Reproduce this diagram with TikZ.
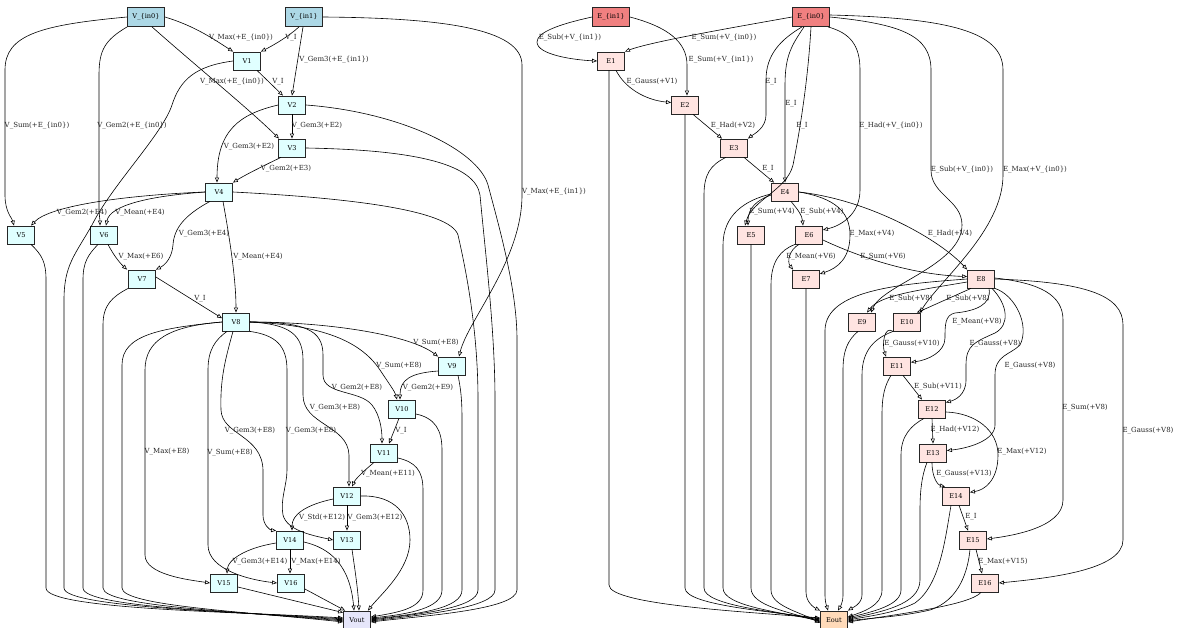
\documentclass[tikz,border=0pt]{standalone}
\usepackage{fontspec}
\usetikzlibrary{arrows.meta}
\newfontfamily\dvserif{DejaVu Serif}
\newcommand\labfont{\dvserif\fontsize{7}{8}\selectfont}
\newcommand\boxfont{\dvserif\fontsize{6.6}{8}\selectfont}
\definecolor{vin}{HTML}{ADD8E6}
\definecolor{vmid}{HTML}{E0FFFF}
\definecolor{vend}{HTML}{E6E6FA}
\definecolor{ein}{HTML}{F08080}
\definecolor{emid}{HTML}{FFE4E1}
\definecolor{eend}{HTML}{FFDAB9}
\tikzset{
  nbox/.style={draw=black!85, line width=0.8pt, minimum width=27pt, minimum height=18pt, inner sep=0pt, font=\boxfont},
  ibox/.style={nbox, minimum width=37pt, minimum height=19pt},
  edge/.style={draw=black, line width=0.6pt, -{Triangle[open,length=5pt,width=4pt]}},
  lab/.style={font=\labfont, text=black!85, inner sep=0.5pt},
}
\begin{document}
\begin{tikzpicture}[x=1pt,y=-1pt]
\useasboundingbox (0,0) rectangle (1178,628);

% ---------- vertex graph ----------
\node[ibox, fill=vin] (Vin0) at (146,17) {V\_\{in0\}};
\node[ibox, fill=vin] (Vin1) at (304,17) {V\_\{in1\}};
\node[nbox, fill=vmid] (V1) at (247,61) {V1};
\node[nbox, fill=vmid] (V2) at (292,105) {V2};
\node[nbox, fill=vmid] (V3) at (292,148) {V3};
\node[nbox, fill=vmid] (V4) at (219,192) {V4};
\node[nbox, fill=vmid] (V5) at (21,235) {V5};
\node[nbox, fill=vmid] (V6) at (104,235) {V6};
\node[nbox, fill=vmid] (V7) at (142,279) {V7};
\node[nbox, fill=vmid] (V8) at (236,322) {V8};
\node[nbox, fill=vmid] (V9) at (452,366) {V9};
\node[nbox, fill=vmid] (V10) at (402,409) {V10};
\node[nbox, fill=vmid] (V11) at (384,453) {V11};
\node[nbox, fill=vmid] (V12) at (347,496) {V12};
\node[nbox, fill=vmid] (V13) at (347,540) {V13};
\node[nbox, fill=vmid] (V14) at (290,540) {V14};
\node[nbox, fill=vmid] (V15) at (224,583) {V15};
\node[nbox, fill=vmid] (V16) at (291,583) {V16};
\node[nbox, fill=vend] (Vout) at (357,620) {Vout};

\draw[edge] (Vin0.east) .. controls (195,26) and (215,40) .. (V1.north west);
\draw[edge] ([xshift=6pt]Vin0.south) .. controls (195,65) and (250,110) .. ([xshift=-13pt]V3.north);
\draw[edge] (Vin0.west) .. controls (40,25) and (5,35) .. (5,70) -- (5,195) .. controls (5,212) and (12,218) .. ([xshift=-7pt]V5.north);
\draw[edge] (Vin0.south west) .. controls (105,40) and (99,50) .. (99,75) -- (99,205) .. controls (99,215) and (100,220) .. ([xshift=-4pt]V6.north);
\draw[edge] ([xshift=-5pt]Vin1.south) .. controls (288,37) and (272,46) .. (V1.north east);
\draw[edge] ([xshift=-1pt]Vin1.south) -- (V2.north);
\draw[edge] (Vin1.east) .. controls (440,18) and (522,28) .. (522,65) -- (522,195) .. controls (522,260) and (468,320) .. ([xshift=7pt]V9.north);

\draw[edge] ([xshift=10pt]V1.south) -- ([xshift=-9pt]V2.north);
\draw[edge] (V1.west) .. controls (195,66) and (180,80) .. (172,105) .. controls (162,135) and (112,185) .. (92,225) .. controls (75,255) and (64,265) .. (64,300) -- (64,588) .. controls (64,608) and (250,612) .. ([yshift=1pt]Vout.west);

\draw[edge] (V2.south) -- (V3.north);
\draw[edge] (V2.west) .. controls (240,114) and (217,130) .. ([xshift=-2pt]V4.north);
\draw[edge] (V2.east) .. controls (400,112) and (478,150) .. (488,185) .. controls (500,230) and (517,290) .. (517,340) -- (517,590) .. controls (517,610) and (420,616) .. ([yshift=-2pt]Vout.east);

\draw[edge] ([xshift=-11pt]V3.south) .. controls (265,165) and (245,175) .. (V4.north east);
\draw[edge] (V3.east) .. controls (420,150) and (475,165) .. (480,195) .. controls (485,250) and (495,330) .. (495,400) -- (495,590) .. controls (495,608) and (420,615) .. ([yshift=-1pt]Vout.east);

\draw[edge] (V4.west) .. controls (130,195) and (50,205) .. ([xshift=10pt]V5.north);
\draw[edge] (V4.west) .. controls (150,196) and (110,205) .. ([xshift=2pt]V6.north);
\draw[edge] ([xshift=-9pt]V4.south) .. controls (185,215) and (174,228) .. (173,245) .. controls (172,258) and (165,265) .. (V7.north east);
\draw[edge] ([xshift=4pt]V4.south) .. controls (230,240) and (236,280) .. (V8.north);
\draw[edge] (V4.east) .. controls (350,198) and (450,210) .. (458,235) .. controls (466,270) and (478,330) .. (478,400) -- (478,590) .. controls (478,608) and (420,614) .. (Vout.east);

\draw[edge] ([xshift=10pt]V5.south) .. controls (42,255) and (46,262) .. (46,280) -- (46,588) .. controls (46,610) and (250,612) .. ([yshift=2pt]Vout.west);

\draw[edge] ([xshift=4pt]V6.south) .. controls (115,258) and (122,265) .. ([xshift=-1pt]V7.north west);
\draw[edge] ([xshift=-6pt]V6.south) .. controls (88,255) and (83,262) .. (83,280) -- (83,588) .. controls (83,608) and (250,612) .. (Vout.west);

\draw[edge] ([yshift=2pt]V7.east) -- (V8.165);
\draw[edge] (V7.south west) .. controls (112,297) and (103,305) .. (103,325) -- (103,588) .. controls (103,607) and (250,612) .. ([yshift=-1pt]Vout.west);

\draw[edge] (V8.east) .. controls (330,322) and (410,335) .. (V9.north west);
\draw[edge] (V8.east) .. controls (320,325) and (360,340) .. (380,370) .. controls (390,385) and (395,392) .. ([xshift=-5pt]V10.north);
\draw[edge] (V8.east) .. controls (305,322) and (323,330) .. (323,355) -- (323,375) .. controls (323,395) and (360,390) .. (372,405) .. controls (380,415) and (382,430) .. ([xshift=-2pt]V11.north);
\draw[edge] (V8.east) .. controls (290,324) and (303,335) .. (303,360) -- (303,395) .. controls (303,425) and (348,425) .. (349,455) -- ([xshift=2pt]V12.north);
\draw[edge] (V8.south east) .. controls (275,335) and (287,345) .. (287,370) -- (287,470) .. controls (287,485) and (280,500) .. (283,515) .. controls (287,530) and (310,535) .. (V13.west);
\draw[edge] ([xshift=-3pt]V8.south) .. controls (225,360) and (220,380) .. (221,410) .. controls (222,435) and (262,435) .. (263,470) -- (263,515) .. controls (263,525) and (270,530) .. (V14.north west);
\draw[edge] ([xshift=-9pt]V8.south) .. controls (215,340) and (208,350) .. (208,370) -- (208,545) .. controls (208,570) and (250,580) .. (V16.west);
\draw[edge] (V8.west) .. controls (170,326) and (145,340) .. (145,370) -- (145,555) .. controls (145,575) and (190,580) .. (V15.west);
\draw[edge] (V8.west) .. controls (160,328) and (122,335) .. (122,365) -- (122,588) .. controls (122,606) and (250,612) .. ([yshift=-2pt]Vout.west);

\draw[edge] ([yshift=-5pt]V9.west) .. controls (410,373) and (400,380) .. ([xshift=-2pt]V10.north);
\draw[edge] ([xshift=6pt]V9.south) .. controls (461,390) and (462,400) .. (462,420) -- (462,590) .. controls (462,608) and (420,614) .. ([yshift=1pt]Vout.east);

\draw[edge] ([xshift=-3pt]V10.south) -- ([xshift=5pt]V11.north);
\draw[edge] ([yshift=-5pt]V10.east) .. controls (435,418) and (442,430) .. (442,450) -- (442,590) .. controls (442,608) and (410,614) .. ([yshift=2pt]Vout.east);

\draw[edge] ([xshift=-10pt]V11.south) .. controls (365,470) and (356,478) .. ([xshift=5pt]V12.north);
\draw[edge] ([yshift=-5pt]V11.east) .. controls (415,462) and (423,470) .. (423,490) -- (423,590) .. controls (423,608) and (400,612) .. ([yshift=3pt]Vout.east);

\draw[edge] ([yshift=-3pt]V12.west) .. controls (305,505) and (292,515) .. ([xshift=2pt]V14.north);
\draw[edge] (V12.south) -- (V13.north);
\draw[edge] (V12.east) .. controls (395,495) and (410,515) .. (410,540) .. controls (410,570) and (380,595) .. ([xshift=-3pt]Vout.north east);
\draw[edge] ([xshift=5pt]V13.south) .. controls (355,570) and (358,590) .. ([xshift=2pt]Vout.north);

\draw[edge] ([yshift=-3pt]V14.west) .. controls (245,548) and (228,560) .. ([xshift=3pt]V15.north);
\draw[edge] (V14.south) -- ([xshift=-1pt]V16.north);
\draw[edge] ([yshift=-2pt]V14.east) .. controls (330,548) and (350,565) .. ([xshift=-3pt]Vout.north);
\draw[edge] ([yshift=-4pt]V15.east) -- ([yshift=-2pt]Vout.north west);
\draw[edge] ([yshift=-6pt]V16.east) -- ([xshift=2pt]Vout.north west);

\node[lab] (l01) at (241,38) {V\_Max(+E\_\{in0\})};
\node[lab] (l02) at (291,38) {V\_I};
\node[lab] (l03) at (334,60) {V\_Gem3(+E\_\{in1\})};
\node[lab] (l04) at (232,82) {V\_Max(+E\_\{in0\})};
\node[lab] (l05) at (278,82) {V\_I};
\node[lab] (l06) at (37,126) {V\_Sum(+E\_\{in0\})};
\node[lab] (l07) at (132,126) {V\_Gem2(+E\_\{in0\})};
\node[lab] (l08) at (317,126) {V\_Gem3(+E2)};
\node[lab] (l09) at (249,147) {V\_Gem3(+E2)};
\node[lab] (l10) at (286,169) {V\_Gem2(+E3)};
\node[lab] (l11) at (554,192) {V\_Max(+E\_\{in1\})};
\node[lab] (l12) at (82,213) {V\_Gem2(+E4)};
\node[lab] (l13) at (140,213) {V\_Mean(+E4)};
\node[lab] (l14) at (204,234) {V\_Gem3(+E4)};
\node[lab] (l15) at (141,257) {V\_Max(+E6)};
\node[lab] (l16) at (258,257) {V\_Mean(+E4)};
\node[lab] (l17) at (200,299) {V\_I};
\node[lab] (l18) at (436,343) {V\_Sum(+E8)};
\node[lab] (l19) at (399,366) {V\_Sum(+E8)};
\node[lab] (l20) at (357,388) {V\_Gem2(+E8)};
\node[lab] (l21) at (428,388) {V\_Gem2(+E9)};
\node[lab] (l22) at (335,408) {V\_Gem3(+E8)};
\node[lab] (l23) at (250,431) {V\_Gem3(+E8)};
\node[lab] (l24) at (311,431) {V\_Gem3(+E8)};
\node[lab] (l25) at (401,431) {V\_I};
\node[lab] (l26) at (167,452) {V\_Max(+E8)};
\node[lab] (l27) at (230,453) {V\_Sum(+E8)};
\node[lab] (l28) at (388,474) {V\_Mean(+E11)};
\node[lab] (l29) at (322,518) {V\_Std(+E12)};
\node[lab] (l30) at (375,518) {V\_Gem3(+E12)};
\node[lab] (l31) at (260,562) {V\_Gem3(+E14)};
\node[lab] (l32) at (316,562) {V\_Max(+E14)};

% ---------- edge graph ----------
\node[ibox, fill=ein] (Ein1) at (611,17) {E\_\{in1\}};
\node[ibox, fill=ein] (Ein0) at (811,17) {E\_\{in0\}};
\node[nbox, fill=emid] (E1) at (611,61) {E1};
\node[nbox, fill=emid] (E2) at (685,105) {E2};
\node[nbox, fill=emid] (E3) at (734,148) {E3};
\node[nbox, fill=emid] (E4) at (785,192) {E4};
\node[nbox, fill=emid] (E5) at (751,235) {E5};
\node[nbox, fill=emid] (E6) at (809,235) {E6};
\node[nbox, fill=emid] (E7) at (806,279) {E7};
\node[nbox, fill=emid] (E8) at (981,279) {E8};
\node[nbox, fill=emid] (E9) at (862,322) {E9};
\node[nbox, fill=emid] (E10) at (907,322) {E10};
\node[nbox, fill=emid] (E11) at (897,366) {E11};
\node[nbox, fill=emid] (E12) at (932,409) {E12};
\node[nbox, fill=emid] (E13) at (933,453) {E13};
\node[nbox, fill=emid] (E14) at (956,496) {E14};
\node[nbox, fill=emid] (E15) at (973,540) {E15};
\node[nbox, fill=emid] (E16) at (985,583) {E16};
\node[nbox, fill=eend] (Eout) at (834,620) {Eout};

\draw[edge] (Ein1.west) .. controls (560,24) and (537,32) .. (537,42) .. controls (537,55) and (575,60) .. (E1.west);
\draw[edge] (Ein1.east) .. controls (668,27) and (687,42) .. (687,65) -- ([xshift=2pt]E2.north);
\draw[edge] (Ein0.west) .. controls (730,28) and (650,42) .. (E1.north east);
\draw[edge] ([xshift=-9pt]Ein0.south) .. controls (780,40) and (766,55) .. (766,80) -- (766,115) .. controls (766,128) and (754,134) .. (E3.north east);
\draw[edge] ([xshift=-7pt]Ein0.south) .. controls (792,45) and (785,55) .. (785,85) -- (E4.north);
\draw[edge] (Ein0.south) .. controls (808,80) and (800,130) .. (793,165) .. controls (787,190) and (752,200) .. ([xshift=-6pt]E5.north);
\draw[edge] ([xshift=-2pt]Ein0.south east) .. controls (850,33) and (860,45) .. (860,70) -- (860,190) .. controls (860,215) and (840,226) .. (E6.20);
\draw[edge] (Ein0.east) .. controls (900,24) and (931,35) .. (931,70) -- (931,170) .. controls (931,195) and (962,200) .. (962,225) .. controls (962,265) and (882,285) .. ([xshift=9pt]E9.north);
\draw[edge] ([yshift=2pt]Ein0.east) .. controls (950,18) and (1003,32) .. (1003,70) -- (1003,175) .. controls (1003,230) and (940,280) .. ([xshift=-1pt]E10.north east);

\draw[edge] ([xshift=5pt]E1.south) .. controls (625,88) and (645,100) .. (E2.170);
\draw[edge] ([xshift=-2pt]E1.south) -- (609,585) .. controls (609,605) and (750,612) .. ([yshift=2pt]Eout.west);
\draw[edge] ([xshift=8pt]E2.south) -- ([xshift=-12pt]E3.north);
\draw[edge] (E2.south) -- (685,588) .. controls (685,606) and (780,612) .. ([yshift=1pt]Eout.west);
\draw[edge] ([xshift=10pt]E3.south) -- ([xshift=3pt]E4.north west);
\draw[edge] ([xshift=-8pt]E3.south) .. controls (710,165) and (704,175) .. (704,195) -- (704,588) .. controls (704,606) and (780,612) .. (Eout.west);
\draw[edge] ([yshift=-3pt]E4.west) .. controls (757,200) and (748,208) .. ([xshift=-3pt]E5.north);
\draw[edge] ([xshift=6pt]E4.south) .. controls (798,210) and (802,215) .. ([xshift=-6pt]E6.north);
\draw[edge] (E4.east) .. controls (835,198) and (850,212) .. (850,235) .. controls (850,258) and (838,268) .. (E7.20);
\draw[edge] (E4.east) .. controls (870,200) and (940,240) .. (E8.north west);
\draw[edge] ([yshift=-2pt]E4.west) .. controls (745,200) and (723,215) .. (723,245) -- (723,588) .. controls (723,606) and (780,612) .. ([yshift=-1pt]Eout.west);
\draw[edge] (E5.south) -- (751,588) .. controls (751,606) and (790,612) .. ([yshift=-2pt]Eout.west);
\draw[edge] ([xshift=-10pt]E6.south) .. controls (789,250) and (787,262) .. ([xshift=1pt]E7.north west);
\draw[edge] ([yshift=-5pt]E6.east) .. controls (870,262) and (920,275) .. (E8.170);
\draw[edge] (E6.south west) .. controls (780,250) and (771,262) .. (771,285) -- (771,590) .. controls (771,606) and (800,612) .. ([yshift=-3pt]Eout.west);
\draw[edge] (E7.south) -- (806,592) .. controls (806,603) and (815,608) .. (Eout.north west);

\draw[edge] ([yshift=-3pt]E8.west) .. controls (920,290) and (880,295) .. ([xshift=5pt]E9.north);
\draw[edge] ([xshift=-10pt]E8.south) -- ([xshift=-4pt]E10.north east);
\draw[edge] ([xshift=8pt]E8.south) .. controls (992,305) and (975,311) .. (955,313) .. controls (945,315) and (945,325) .. (945,338) .. controls (945,352) and (928,360) .. (E11.15);
\draw[edge] ([xshift=11pt]E8.south) .. controls (1008,305) and (1010,325) .. (995,333) .. controls (975,342) and (966,345) .. (966,365) -- (966,380) .. controls (966,395) and (955,400) .. (E12.25);
\draw[edge] (E8.south east) .. controls (1015,295) and (1030,325) .. (1020,345) .. controls (1010,355) and (995,355) .. (995,375) -- (995,425) .. controls (995,440) and (970,448) .. (E13.10);
\draw[edge] ([yshift=1pt]E8.east) .. controls (1040,283) and (1063,295) .. (1063,320) -- (1063,500) .. controls (1063,528) and (1010,536) .. ([yshift=1pt]E15.east);
\draw[edge] (E8.east) .. controls (1085,282) and (1123,295) .. (1123,325) -- (1123,540) .. controls (1123,570) and (1050,578) .. (E16.east);
\draw[edge] (E8.west) .. controls (900,284) and (826,290) .. (825,330) -- (825,595) .. controls (825,603) and (827,607) .. ([xshift=-6pt]Eout.north);

\draw[edge] ([xshift=-4pt]E9.south) .. controls (848,340) and (843,350) .. (843,370) -- (843,595) .. controls (843,603) and (840,607) .. ([xshift=4pt]Eout.north);
\draw[edge] (E10.south west) .. controls (884,325) and (882,345) .. ([xshift=-11pt]E11.north);
\draw[edge] (E10.south west) .. controls (875,338) and (862,350) .. (862,375) -- (862,595) .. controls (862,604) and (852,608) .. (Eout.north east);
\draw[edge] ([xshift=6pt]E11.south) -- ([xshift=-10pt]E12.north);
\draw[edge] ([xshift=-6pt]E11.south) .. controls (885,385) and (882,395) .. (882,415) -- (882,590) .. controls (882,606) and (862,612) .. ([yshift=3pt]Eout.east);
\draw[edge] (E12.south) -- (E13.north);
\draw[edge] ([yshift=-3pt]E12.east) .. controls (975,413) and (998,430) .. (998,455) .. controls (998,480) and (985,490) .. (E14.15);
\draw[edge] ([xshift=-8pt]E12.south) .. controls (912,425) and (901,435) .. (901,455) -- (901,590) .. controls (901,606) and (870,612) .. ([yshift=2pt]Eout.east);
\draw[edge] ([xshift=-1pt]E13.south) .. controls (932,478) and (938,485) .. ([xshift=-11pt]E14.north);
\draw[edge] ([xshift=-6pt]E13.south) .. controls (922,475) and (920,490) .. (920,510) -- (920,580) .. controls (920,605) and (880,612) .. ([yshift=1pt]Eout.east);
\draw[edge] ([xshift=3pt]E14.south) -- ([xshift=-5pt]E15.north);
\draw[edge] ([xshift=-5pt]E14.south) .. controls (945,540) and (940,585) .. (915,603) .. controls (895,613) and (870,616) .. (Eout.east);
\draw[edge] ([xshift=3pt]E15.south) -- ([xshift=-3pt]E16.north);
\draw[edge] ([xshift=-3pt]E15.south) .. controls (968,570) and (960,600) .. (930,610) .. controls (900,617) and (870,618) .. ([yshift=-1pt]Eout.east);
\draw[edge] ([xshift=-4pt]E16.south) .. controls (970,605) and (900,614) .. ([yshift=-2pt]Eout.east);

\node[lab] (r01) at (570,38) {E\_Sub(+V\_\{in1\})};
\node[lab] (r02) at (724,38) {E\_Sum(+V\_\{in0\})};
\node[lab] (r03) at (721,60) {E\_Sum(+V\_\{in1\})};
\node[lab] (r04) at (652,82) {E\_Gauss(+V1)};
\node[lab] (r05) at (771,82) {E\_I};
\node[lab] (r06) at (791,104) {E\_I};
\node[lab] (r07) at (733,126) {E\_Had(+V2)};
\node[lab] (r08) at (802,126) {E\_I};
\node[lab] (r09) at (891,126) {E\_Had(+V\_\{in0\})};
\node[lab] (r10) at (768,169) {E\_I};
\node[lab] (r11) at (962,170) {E\_Sub(+V\_\{in0\})};
\node[lab] (r12) at (1035,170) {E\_Max(+V\_\{in0\})};
\node[lab] (r13) at (772,212) {E\_Sum(+V4)};
\node[lab] (r14) at (822,212) {E\_Sub(+V4)};
\node[lab] (r15) at (872,234) {E\_Max(+V4)};
\node[lab] (r16) at (950,234) {E\_Had(+V4)};
\node[lab] (r17) at (811,257) {E\_Mean(+V6)};
\node[lab] (r18) at (883,257) {E\_Sum(+V6)};
\node[lab] (r19) at (911,299) {E\_Sub(+V8)};
\node[lab] (r20) at (968,299) {E\_Sub(+V8)};
\node[lab] (r21) at (977,322) {E\_Mean(+V8)};
\node[lab] (r22) at (912,344) {E\_Gauss(+V10)};
\node[lab] (r23) at (995,344) {E\_Gauss(+V8)};
\node[lab] (r24) at (1030,366) {E\_Gauss(+V8)};
\node[lab] (r25) at (938,387) {E\_Sub(+V11)};
\node[lab] (r26) at (1085,408) {E\_Sum(+V8)};
\node[lab] (r27) at (955,430) {E\_Had(+V12)};
\node[lab] (r28) at (1148,431) {E\_Gauss(+V8)};
\node[lab] (r29) at (1022,452) {E\_Max(+V12)};
\node[lab] (r30) at (964,474) {E\_Gauss(+V13)};
\node[lab] (r31) at (971,517) {E\_I};
\node[lab] (r32) at (1003,562) {E\_Max(+V15)};
\end{tikzpicture}
\end{document}
